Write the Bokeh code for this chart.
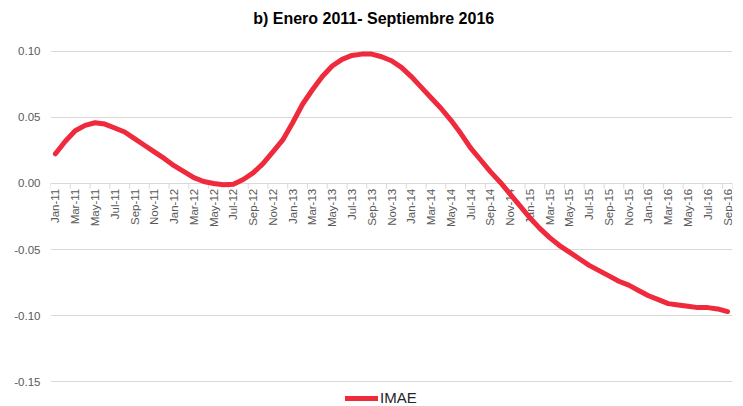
import math
from bokeh.plotting import figure
from bokeh.models import FixedTicker, NumeralTickFormatter, Range1d, Legend, LegendItem
from bokeh.core.properties import value
from bokeh.embed import file_html
from bokeh.resources import INLINE

title_text = "b) Enero 2011- Septiembre 2016"

months = []
names = ["Jan", "Feb", "Mar", "Apr", "May", "Jun", "Jul", "Aug", "Sep", "Oct", "Nov", "Dec"]
for yr in range(11, 17):
    for m in names:
        months.append(f"{m}-{yr}")
months = months[:69]  # Jan-11 .. Sep-16

imae = [
    0.0225, 0.032, 0.040, 0.044, 0.046, 0.045, 0.042, 0.039, 0.034, 0.029, 0.024, 0.019,
    0.0135, 0.009, 0.0045, 0.0015, 0.0, -0.001, -0.0005, 0.003, 0.008, 0.015, 0.024, 0.033,
    0.046, 0.060, 0.071, 0.081, 0.089, 0.094, 0.097, 0.098, 0.098, 0.096, 0.093, 0.088,
    0.081, 0.073, 0.065, 0.057, 0.048, 0.038, 0.027, 0.018, 0.009, 0.001, -0.008, -0.017,
    -0.026, -0.034, -0.041, -0.047, -0.052, -0.057, -0.062, -0.066, -0.070, -0.074, -0.077, -0.081,
    -0.085, -0.088, -0.091, -0.092, -0.093, -0.094, -0.094, -0.095, -0.097,
]
y_ticks = [-0.15, -0.10, -0.05, 0.0, 0.05, 0.10]

idx = list(range(len(months)))
label_idx = idx[::2]
label_txt = [months[i] for i in label_idx]

p = figure(width=743, height=406, output_backend="svg", toolbar_location=None,
           x_range=Range1d(-0.5, len(months) - 0.5), y_range=Range1d(-0.1689, 0.1386),
           min_border_left=50, min_border_right=11, min_border_top=0, min_border_bottom=0)
p.outline_line_color = None
p.background_fill_color = "white"
p.border_fill_color = "white"

p.xaxis.visible = False
p.xgrid.visible = False
p.yaxis.ticker = FixedTicker(ticks=y_ticks)
p.yaxis.formatter = NumeralTickFormatter(format="0.00")
p.yaxis.axis_line_color = None
p.yaxis.major_tick_line_color = None
p.yaxis.minor_tick_line_color = None
p.yaxis.major_label_text_font = "Liberation Sans"
p.yaxis.major_label_text_font_size = "11.5px"
p.yaxis.major_label_text_color = "#595959"
p.yaxis.major_label_standoff = 4
p.ygrid.ticker = FixedTicker(ticks=y_ticks)
p.ygrid.grid_line_color = "#d9d9d9"
p.ygrid.grid_line_width = 1

# title
p.text(x=[(len(months) - 1) / 2 - 1.8], y=[0.125], text=[title_text],
       text_align="center", text_baseline="middle", text_font=value("Liberation Sans"),
       text_font_size="16px", text_font_style="bold", text_color="#000000")

# category tick marks on the zero axis (between categories, every 2)
tick_x = [i - 0.5 for i in label_idx] + [len(months) - 0.5]
p.segment(x0=tick_x, y0=[0] * len(tick_x), x1=tick_x, y1=[-0.004] * len(tick_x),
          line_color="#d9d9d9", line_width=1)

p.text(x=label_idx, y=[-0.004] * len(label_idx), text=label_txt, angle=math.pi / 2,
       text_align="right", text_baseline="middle", text_font=value("Liberation Sans"),
       text_font_size="11.5px", text_color="#595959")

r = p.line(idx, imae, line_color="#ee2a3c", line_width=5, line_join="round", line_cap="round")

legend = Legend(items=[LegendItem(label="IMAE", renderers=[r])], location=(295, 0),
                orientation="horizontal", border_line_color=None, background_fill_alpha=0,
                glyph_width=33, glyph_height=16, label_standoff=2, padding=0, margin=0,
                label_text_font="Liberation Sans", label_text_font_size="15px",
                label_text_color="#262626", spacing=0)
p.add_layout(legend, "center")

open("out.html", "w").write(file_html(p, INLINE))
